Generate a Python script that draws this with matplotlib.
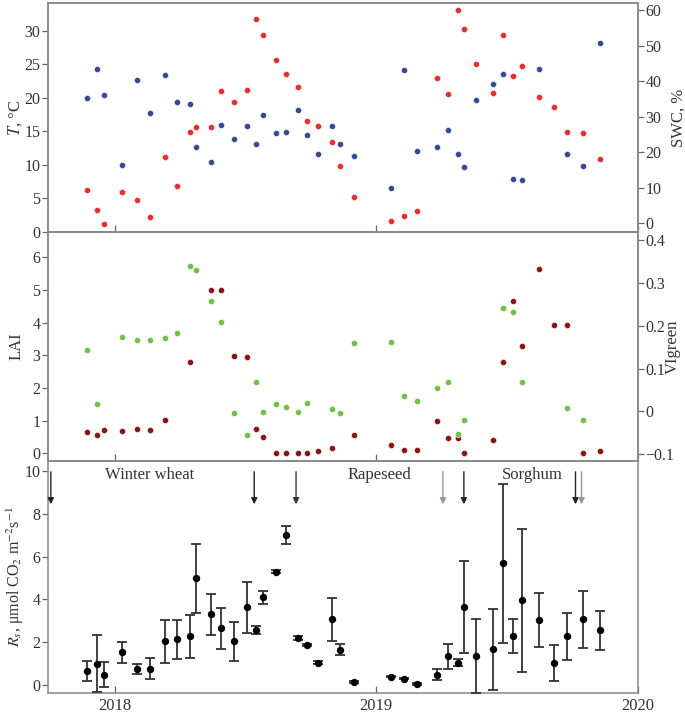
import numpy as np
import matplotlib
matplotlib.use('Agg')
import matplotlib.pyplot as plt

plt.rcParams['font.family'] = ['Liberation Serif', 'DejaVu Serif']
plt.rcParams['mathtext.fontset'] = 'stix'
plt.rcParams['font.size'] = 11
plt.rcParams['text.color'] = '#333333'
plt.rcParams['axes.labelcolor'] = '#333333'
plt.rcParams['xtick.color'] = '#666666'
plt.rcParams['ytick.color'] = '#666666'
plt.rcParams['xtick.labelcolor'] = '#333333'
plt.rcParams['ytick.labelcolor'] = '#333333'

nan = np.nan

# sampling dates (decimal years)
dates = np.array([2017.894, 2017.930, 2017.959, 2018.029, 2018.085, 2018.134, 2018.190,
                  2018.238, 2018.287, 2018.311, 2018.368, 2018.407, 2018.454, 2018.504,
                  2018.538, 2018.566, 2018.618, 2018.654, 2018.700, 2018.734, 2018.777,
                  2018.829, 2018.860, 2018.913, 2019.058, 2019.105, 2019.154, 2019.233,
                  2019.273, 2019.313, 2019.334, 2019.381, 2019.446, 2019.483, 2019.521,
                  2019.556, 2019.621, 2019.680, 2019.730, 2019.791, 2019.854])

# soil temperature, C
T = [6.3, 3.3, 1.2, 5.9, 4.8, 2.2, 11.2, 6.8, 14.9, 15.6, 15.6, 21.0, 19.4, 21.2,
     31.8, 29.3, 25.6, 23.5, 21.6, 16.6, 15.8, 13.4, 9.8, 5.2, 1.6, 2.4, 3.2,
     22.9, 20.6, 33.1, 30.2, 25.0, 20.7, 29.3, 23.3, 24.8, 20.1, 18.6, 14.9, 14.8, 10.9]

# soil water content, %
SWC = [35.3, 43.5, 36.1, 16.3, 40.4, 31.0, 41.8, 34.1, 33.5, 21.6, 17.2, 27.6, 23.6, 27.4,
       22.2, 30.4, 25.4, 25.7, 31.9, 24.8, 19.5, 27.4, 22.2, 18.9, 9.8, 43.2, 20.3,
       21.4, 26.2, 19.5, 15.7, 34.8, 39.3, 41.9, 12.5, 12.1, 43.5, nan, 19.5, 16.0, 50.6]

# leaf area index
LAI = [0.65, 0.56, 0.71, 0.68, 0.74, 0.71, 1.01, nan, 2.80, nan, 5.0, 5.0, 2.99, 2.93,
       0.74, 0.50, 0.0, 0.0, 0.0, 0.0, 0.07, 0.15, nan, 0.56, 0.25, 0.09, 0.09,
       0.99, 0.46, 0.46, 0.0, nan, 0.41, 2.80, 4.65, 3.29, 5.64, 3.92, 3.92, 0.0, 0.06]

# VIgreen (own sampling dates)
VI_dates = np.array([2017.894, 2017.930, 2018.029, 2018.085, 2018.134, 2018.190, 2018.238,
                     2018.287, 2018.311, 2018.368, 2018.407, 2018.454, 2018.504, 2018.538,
                     2018.566, 2018.618, 2018.654, 2018.700, 2018.734, 2018.829, 2018.860,
                     2018.913, 2019.058, 2019.105, 2019.154, 2019.233, 2019.273, 2019.313,
                     2019.334, 2019.483, 2019.521, 2019.556, 2019.730, 2019.791])
VI_vals = [0.143, 0.018, 0.174, 0.167, 0.167, 0.172, 0.183, 0.340, 0.330, 0.257, 0.208,
           -0.004, -0.056, 0.069, -0.002, 0.018, 0.011, -0.002, 0.020, 0.005, -0.004,
           0.160, 0.162, 0.036, 0.024, 0.054, 0.068, -0.053, -0.019, 0.242, 0.232,
           0.068, 0.008, -0.019]

# soil respiration and its error
Rs = [0.65, 1.0, 0.48, 1.53, 0.76, 0.76, 2.04, 2.13, 2.27, 5.0, 3.30, 2.65, 2.04, 3.63,
      2.56, 4.11, 5.30, 7.01, 2.21, 1.88, 1.04, 3.07, 1.65, 0.14, 0.39, 0.29, 0.05,
      0.48, 1.34, 1.04, 3.63, 1.34, 1.67, 5.70, 2.30, 3.97, 3.04, 1.04, 2.27, 3.08, 2.56]
Rs_err = [0.47, 1.34, 0.59, 0.49, 0.24, 0.50, 1.02, 0.92, 0.99, 1.61, 0.97, 0.95, 0.92, 1.20,
          0.19, 0.30, 0.08, 0.42, 0.10, 0.06, 0.07, 1.02, 0.26, 0.03, 0.03, 0.03, 0.03,
          0.26, 0.59, 0.16, 2.15, 1.73, 1.88, 3.72, 0.79, 3.34, 1.26, 0.84, 1.10, 1.33, 0.91]

# field operations
arrow_x = [2017.755, 2018.533, 2018.693, 2019.255, 2019.335, 2019.762, 2019.785]
arrow_c = ['#222222', '#222222', '#333333', '#999999', '#222222', '#222222', '#999999']
crops = ['Winter wheat', 'Rapeseed', 'Sorghum']
crop_x = [2018.134, 2019.01, 2019.595]

spine_c = '#888888'
xlim = (2017.744, 2020.0)

fig = plt.figure(figsize=(6.85, 7.16), dpi=100)
L, W = 0.070, 0.861
ax1 = fig.add_axes([L, 0.676, W, 0.3194])
ax2 = fig.add_axes([L, 0.356, W, 0.320])
ax3 = fig.add_axes([L, 0.0325, W, 0.3235])


def style(ax):
    for s in ax.spines.values():
        s.set_color(spine_c)
        s.set_linewidth(1.1)
    ax.set_xlim(*xlim)
    ax.set_xticks([2018, 2019, 2020])
    ax.tick_params(axis='x', direction='in', length=5, width=0.9)
    ax.tick_params(axis='y', direction='out', length=4.5, width=0.9, labelsize=11.5, pad=1)


# top panel
style(ax1)
ax1.scatter(dates, T, s=20, c='#ee2b2b', edgecolors='white', linewidths=0.4, zorder=3)
ax1.set_ylim(0, 34.1)
ax1.set_yticks(range(0, 31, 5))
ax1.set_ylabel(r'$T$, °C', fontsize=12)
ax1.yaxis.set_label_coords(-0.041, 0.5)
ax1.tick_params(axis='x', labelbottom=False)
ax1b = ax1.twinx()
style(ax1b)
ax1b.scatter(dates, SWC, s=20, c='#3548a0', edgecolors='white', linewidths=0.4, zorder=3)
ax1b.set_ylim(-2.45, 61.9)
ax1b.set_yticks(range(0, 61, 10))
ax1b.set_ylabel('SWC, %', fontsize=12)
ax1b.yaxis.set_label_coords(1.055, 0.5)
ax1b.tick_params(axis='x', labelbottom=False)

# middle panel
style(ax2)
ax2.scatter(dates, LAI, s=20, c='#8e1414', edgecolors='white', linewidths=0.4, zorder=3)
ax2.set_ylim(-0.24, 6.77)
ax2.set_yticks(range(0, 7))
ax2.set_ylabel('LAI', fontsize=12)
ax2.yaxis.set_label_coords(-0.039, 0.5)
ax2.tick_params(axis='x', labelbottom=False)
ax2b = ax2.twinx()
style(ax2b)
ax2b.scatter(VI_dates, VI_vals, s=20, c='#6cc440', edgecolors='white', linewidths=0.4, zorder=3)
ax2b.set_ylim(-0.116, 0.419)
ax2b.set_yticks([-0.1, 0, 0.1, 0.2, 0.3, 0.4])
ax2b.set_yticklabels(['−0.1', '0', '0.1', '0.2', '0.3', '0.4'])
ax2b.set_ylabel('VIgreen', fontsize=12)
ax2b.yaxis.set_label_coords(1.046, 0.5)
ax2b.tick_params(axis='x', labelbottom=False)

# bottom panel
style(ax3)
ax3.errorbar(dates, Rs, yerr=Rs_err, fmt='o', color='black', ms=4.3,
             ecolor='#333333', elinewidth=1.3, capsize=3.3, capthick=1.3, zorder=3)
ax3.set_ylim(-0.36, 10.47)
ax3.set_yticks(range(0, 11, 2))
ax3.set_ylabel(r'$R_s$, μmol CO$_2$ m$^{-2}$s$^{-1}$', fontsize=11.5)
ax3.yaxis.set_label_coords(-0.038, 0.5)
ax3.set_xticklabels(['2018', '2019', '2020'], fontsize=12)
ax3.tick_params(axis='x', pad=4)

for x, c in zip(arrow_x, arrow_c):
    ax3.annotate('', xy=(x, 8.45), xytext=(x, 9.97),
                 arrowprops=dict(arrowstyle='-|>', color=c, lw=1.0,
                                 mutation_scale=9, shrinkA=0, shrinkB=0))
for name, x in zip(crops, crop_x):
    ax3.text(x, 9.83, name, ha='center', va='center', fontsize=12)

fig.savefig('out.png', dpi=100)
